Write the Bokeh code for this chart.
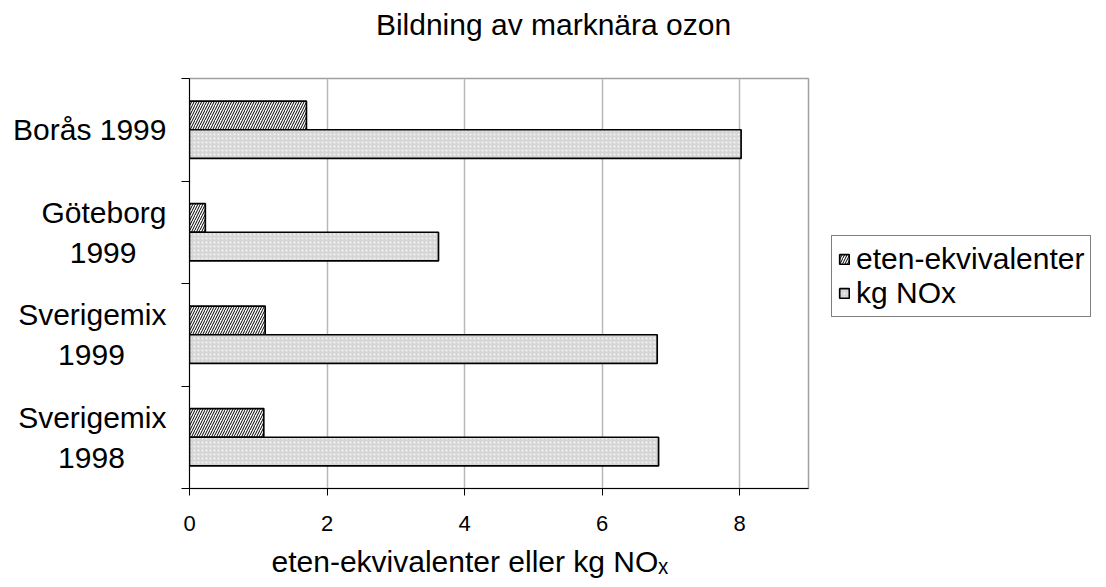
from bokeh.plotting import figure
from bokeh.layouts import row, column
from bokeh.models import (ColumnDataSource, FixedTicker, Legend, LegendItem, Range1d, Title, Label)
from bokeh.embed import file_html
from bokeh.resources import INLINE

# ---- data ----
categories = ["Borås 1999", "Göteborg\n1999", "Sverigemix\n1999", "Sverigemix\n1998"]
eten = [1.70, 0.23, 1.10, 1.08]
nox = [8.02, 3.62, 6.80, 6.82]
series_names = ["eten-ekvivalenter", "kg NOx"]
x_ticks = [0, 2, 4, 6, 8]
title_text = "Bildning av marknära ozon"
xlabel_text = "eten-ekvivalenter eller kg NO\u2093"

n = len(categories)
centers = [n - i - 0.5 for i in range(n)]  # first category on top
bar_h = 0.28

src = ColumnDataSource(dict(
    cat=categories,
    y_eten=[c + bar_h / 2 for c in centers],
    y_nox=[c - bar_h / 2 for c in centers],
    eten=eten,
    nox=nox,
))

FONT = "Liberation Sans"
BIG = "30px"
W, H = 1106, 587
TH = 60            # height of the title strip
PH = H - TH        # height of the plot row

ETEN_STYLE = dict(fill_color="white", hatch_pattern="/", hatch_color="black",
                  hatch_scale=5, hatch_weight=1, line_color="black", line_width=1.7)
NOX_STYLE = dict(fill_color="#d6d6d6", hatch_pattern=".", hatch_color="#f4f4f4",
                 hatch_scale=4, hatch_weight=1, line_color="black", line_width=1.7)


def blank(fig):
    fig.outline_line_color = None
    fig.grid.grid_line_color = None
    fig.background_fill_color = "white"
    fig.border_fill_color = "white"
    fig.title.text = ""
    fig.title.standoff = 0


# ---- title strip ----
tf = figure(width=W, height=TH, output_backend="svg", toolbar_location=None,
            x_range=Range1d(0, W), y_range=Range1d(0, TH),
            x_axis_location=None, y_axis_location=None, min_border=0)
blank(tf)
tf.add_layout(Label(x=W / 2, y=TH - 24, text=title_text, text_align="center",
                    text_baseline="alphabetic", text_font=FONT, text_font_size=BIG,
                    text_color="black"))

# ---- main plot ----
p = figure(width=820, height=PH, output_backend="svg", toolbar_location=None,
           x_range=Range1d(0, 9), y_range=Range1d(0, n),
           min_border_left=189, min_border_right=12, min_border_top=78 - TH,
           min_border_bottom=94)
p.outline_line_color = "#a0a0a0"
p.outline_line_width = 1.5
p.background_fill_color = "white"
p.border_fill_color = "white"
p.title.text = ""
p.title.standoff = 0

p.hbar(y="y_eten", right="eten", left=0, height=bar_h, source=src, **ETEN_STYLE)
p.hbar(y="y_nox", right="nox", left=0, height=bar_h, source=src, **NOX_STYLE)

p.xaxis.ticker = FixedTicker(ticks=x_ticks, minor_ticks=[])
p.xaxis.axis_line_color = "black"
p.xaxis.major_tick_out = 7
p.xaxis.major_tick_in = 0
p.xaxis.major_tick_line_color = "black"
p.xaxis.major_label_text_font = FONT
p.xaxis.major_label_text_font_size = "22px"
p.xaxis.major_label_text_color = "black"
p.xaxis.major_label_standoff = 20

# center the short second lines under the first ones (visual padding only)
pads = ["", "\u2002\u2002", "\u00a0" * 5, "\u00a0" * 5]
p.yaxis.ticker = FixedTicker(ticks=centers, minor_ticks=list(range(n + 1)))
p.yaxis.major_label_overrides = {c: lab + pad for c, lab, pad in zip(centers, categories, pads)}
p.yaxis.axis_line_color = "black"
p.yaxis.major_tick_out = 0
p.yaxis.major_tick_in = 0
p.yaxis.minor_tick_out = 8
p.yaxis.minor_tick_in = 0
p.yaxis.minor_tick_line_color = "black"
p.yaxis.major_label_text_font = FONT
p.yaxis.major_label_text_font_size = BIG
p.yaxis.major_label_text_color = "black"
p.yaxis.major_label_standoff = 15

p.xgrid.grid_line_color = "#b8b8b8"
p.xgrid.grid_line_width = 1.5
p.ygrid.grid_line_color = None

# x axis label (placed as a title below, left offset to match the original)
p.add_layout(Title(text=xlabel_text, align="left", offset=82, text_font=FONT,
                   text_font_size=BIG, text_font_style="normal",
                   text_color="black", standoff=19), "below")

# ---- legend panel (separate canvas to the right of the plot) ----
lg = figure(width=W - 820, height=PH, output_backend="svg", toolbar_location=None,
            x_range=Range1d(0, 1), y_range=Range1d(0, 1),
            x_axis_location=None, y_axis_location=None,
            min_border_left=0, min_border_right=0, min_border_top=78 - TH,
            min_border_bottom=94)
blank(lg)
# tiny sample bars hidden beneath the legend box; they only feed the legend glyphs
dummy = ColumnDataSource(dict(y=[0.5], left=[0.3], right=[0.5]))
l1 = lg.hbar(y="y", right="right", left="left", height=0.03, source=dummy, **ETEN_STYLE)
l2 = lg.hbar(y="y", right="right", left="left", height=0.03, source=dummy, **NOX_STYLE)

legend = Legend(items=[LegendItem(label=series_names[0], renderers=[l1]),
                       LegendItem(label=series_names[1], renderers=[l2])],
                location=(11, 493 - 322))
legend.label_text_font = FONT
legend.label_text_font_size = BIG
legend.label_text_color = "black"
legend.glyph_width = 12
legend.glyph_height = 12
legend.label_standoff = 6
legend.label_height = 28
legend.spacing = 0
legend.padding = 6
legend.margin = 0
legend.border_line_color = "black"
legend.border_line_width = 1
legend.background_fill_alpha = 1
lg.add_layout(legend)

layout = column(tf, row(p, lg, spacing=0), spacing=0)
open("out.html", "w").write(file_html(layout, INLINE))
